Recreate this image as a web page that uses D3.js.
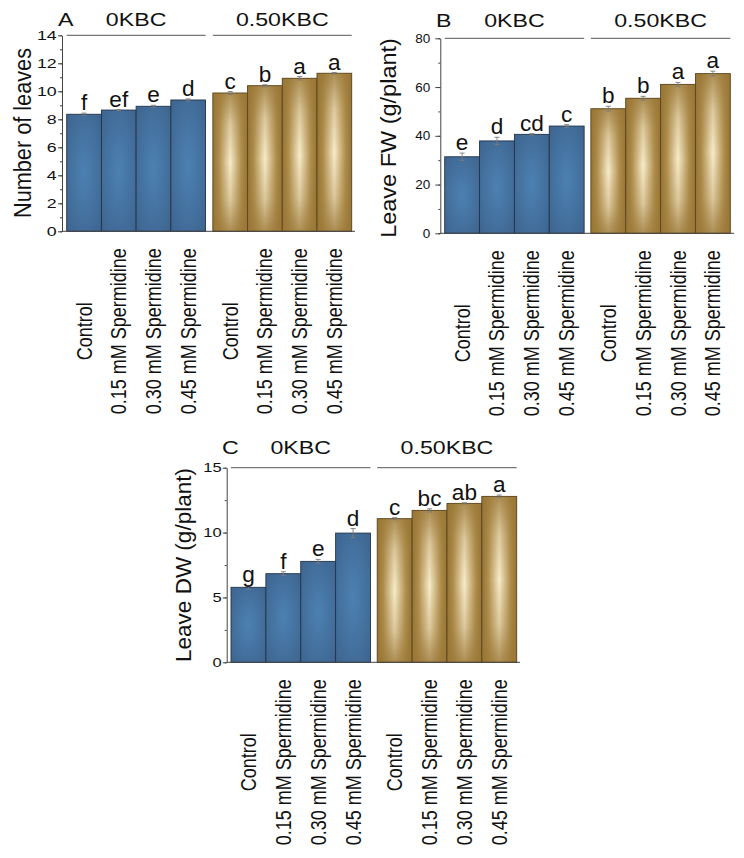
<!DOCTYPE html>
<html>
<head>
<meta charset="utf-8">
<script src="https://cdn.jsdelivr.net/npm/d3@7"></script>
<style>
  body { margin: 0; background: #fff; }
  svg { display: block; font-family: "Liberation Sans", Arial, sans-serif; }
</style>
</head>
<body>
<svg id="fig" width="744" height="858"></svg>
<script>
// data
const groups = ['0KBC', '0.50KBC'];
const treatments = ['Control', '0.15 mM Spermidine', '0.30 mM Spermidine', '0.45 mM Spermidine'];

const leavesMean = [8.36, 8.66, 8.93, 9.38, 9.88, 10.40, 10.93, 11.29];
const leavesErr = [0.08, 0.03, 0.07, 0.08, 0.10, 0.07, 0.12, 0.05];
const leavesLetters = ['f', 'ef', 'e', 'd', 'c', 'b', 'a', 'a'];

const fwMean = [31.4, 37.9, 40.6, 44.0, 51.1, 55.4, 61.1, 65.5];
const fwErr = [1.5, 1.5, 0.3, 0.6, 1.0, 0.8, 0.8, 1.0];
const fwLetters = ['e', 'd', 'cd', 'c', 'b', 'b', 'a', 'a'];

const dwMean = [5.78, 6.83, 7.78, 9.96, 11.07, 11.71, 12.25, 12.79];
const dwErr = [0.15, 0.15, 0.15, 0.35, 0.08, 0.12, 0.05, 0.10];
const dwLetters = ['g', 'f', 'e', 'd', 'c', 'bc', 'ab', 'a'];

const SX = 1.22; // the source image is stretched horizontally

const svg = d3.select('#fig');
const defs = svg.append('defs');

// blue fill
let rg = defs.append('radialGradient').attr('id', 'blueFill')
    .attr('cx', '50%').attr('cy', '50%').attr('r', '75%');
rg.append('stop').attr('offset', '0%').attr('stop-color', '#4c81b2');
rg.append('stop').attr('offset', '100%').attr('stop-color', '#3d628c');

// gold fill: horizontal + vertical shading
let lg = defs.append('linearGradient').attr('id', 'goldH')
    .attr('x1', '0').attr('x2', '1').attr('y1', '0').attr('y2', '0');
[['0%', '#957230'], ['18%', '#b08f4e'], ['50%', '#f8ecca'], ['82%', '#b08f4e'], ['100%', '#957230']]
    .forEach(s => lg.append('stop').attr('offset', s[0]).attr('stop-color', s[1]));
let lv = defs.append('linearGradient').attr('id', 'goldV')
    .attr('x1', '0').attr('x2', '0').attr('y1', '0').attr('y2', '1');
[['0%', 0.8], ['22%', 0.3], ['50%', 0], ['78%', 0.3], ['100%', 0.8]]
    .forEach(s => lv.append('stop').attr('offset', s[0]).attr('stop-color', '#9a7736').attr('stop-opacity', s[1]));

function txt(g, x, y, str, size, rot, anchor, sx) {
    return g.append('text')
        .attr('transform', 'translate(' + x + ',' + y + ') scale(' + (sx || SX) + ',1)' + (rot ? ' rotate(-90)' : ''))
        .attr('text-anchor', anchor || 'middle')
        .attr('font-size', size)
        .attr('fill', '#111')
        .text(str);
}

function panel(p) {
    const g = svg.append('g');
    const y = d3.scaleLinear().domain([0, p.max]).range([p.y0, p.yTop]);
    const gx = d3.scaleBand().domain(groups).range([p.x0, p.x1]).paddingInner(p.gap);
    const ix = d3.scaleBand().domain(treatments).range([0, gx.bandwidth()]);

    const rows = p.mean.map((m, i) => ({
        grp: groups[Math.floor(i / 4)], trt: treatments[i % 4],
        m: m, e: p.err[i], l: p.letters[i], gold: i >= 4
    }));
    const cx = d => gx(d.grp) + ix(d.trt);

    // group lines and labels
    groups.forEach(k => {
        g.append('line')
            .attr('x1', gx(k)).attr('x2', gx(k) + gx.bandwidth())
            .attr('y1', p.yTop).attr('y2', p.yTop)
            .attr('stroke', '#555').attr('stroke-width', 1);
        txt(g, gx(k) + gx.bandwidth() / 2, p.yTop + p.grpDy, k, 19);
    });
    txt(g, p.letterX, p.yTop + p.grpDy, p.tag, 19, false, 'start');

    // bars
    const bars = g.selectAll('.bar').data(rows).enter().append('g');
    bars.append('rect')
        .attr('x', cx).attr('width', ix.bandwidth())
        .attr('y', d => y(d.m)).attr('height', d => y(0) - y(d.m))
        .attr('fill', d => d.gold ? 'url(#goldH)' : 'url(#blueFill)');
    bars.filter(d => d.gold).append('rect')
        .attr('x', cx).attr('width', ix.bandwidth())
        .attr('y', d => y(d.m)).attr('height', d => y(0) - y(d.m))
        .attr('fill', 'url(#goldV)');
    bars.append('rect')
        .attr('x', cx).attr('width', ix.bandwidth())
        .attr('y', d => y(d.m)).attr('height', d => y(0) - y(d.m))
        .attr('fill', 'none')
        .attr('stroke', d => d.gold ? '#5b4720' : '#22344a').attr('stroke-width', 0.9);

    // error bars
    const eb = bars.append('g').attr('stroke', '#7a7a7a').attr('stroke-width', 0.9);
    eb.append('line')
        .attr('x1', d => cx(d) + ix.bandwidth() / 2).attr('x2', d => cx(d) + ix.bandwidth() / 2)
        .attr('y1', d => y(d.m - d.e)).attr('y2', d => y(d.m + d.e));
    ['-', '+'].forEach(s => {
        eb.append('line')
            .attr('x1', d => cx(d) + ix.bandwidth() / 2 - 2.5).attr('x2', d => cx(d) + ix.bandwidth() / 2 + 2.5)
            .attr('y1', d => y(s === '+' ? d.m + d.e : d.m - d.e))
            .attr('y2', d => y(s === '+' ? d.m + d.e : d.m - d.e));
    });

    // significance letters
    rows.forEach(d => {
        txt(g, cx(d) + ix.bandwidth() / 2, y(d.m + d.e) - 3, d.l, 21.5, false, 'middle', 1.05);
    });

    // y axis with minor ticks
    const minor = g.append('g').attr('transform', 'translate(' + p.x0Axis + ',0)')
        .call(d3.axisLeft(y).tickValues(d3.range(0, p.max + 0.001, p.minor)).tickSize(2).tickFormat(''));
    minor.select('.domain').remove();
    minor.selectAll('line').attr('stroke', '#444');
    const ax = g.append('g').attr('transform', 'translate(' + p.x0Axis + ',0)')
        .call(d3.axisLeft(y).tickValues(d3.range(0, p.max + 0.001, p.major)).tickSize(p.tick).tickSizeOuter(0));
    ax.select('.domain').attr('stroke', '#444');
    ax.selectAll('line').attr('stroke', '#444');
    ax.selectAll('text')
        .attr('font-size', 12.5).attr('font-family', '"Liberation Sans", Arial, sans-serif')
        .attr('fill', '#111')
        .attr('x', -p.tickGap / p.tickSX)
        .attr('transform', 'scale(' + p.tickSX + ',1)');

    // baseline
    g.append('line')
        .attr('x1', p.x0Axis).attr('x2', p.xEnd)
        .attr('y1', y(0)).attr('y2', y(0))
        .attr('stroke', '#444').attr('stroke-width', 1);

    // x labels
    rows.forEach(d => {
        txt(g, cx(d) + ix.bandwidth() / 2 + 7.5, p.y0 + 100, d.trt, 18, true, 'middle', 1.18);
    });

    // y title
    txt(g, p.titleX, p.titleY, p.title, p.titleSize, true, 'middle', p.titleSX);
}

panel({ tag: 'A', title: 'Number of leaves', mean: leavesMean, err: leavesErr, letters: leavesLetters,
    max: 14, major: 2, minor: 1, y0: 231.3, yTop: 35.3, x0Axis: 62, x0: 66.7, x1: 351.7, xEnd: 355,
    gap: 0.05, grpDy: -9, letterX: 58, tick: 4, tickGap: 5.3, tickSX: 1.42,
    titleX: 31, titleY: 133, titleSize: 21.7, titleSX: 1.1 });
panel({ tag: 'B', title: 'Leave FW (g/plant)', mean: fwMean, err: fwErr, letters: fwLetters,
    max: 80, major: 20, minor: 10, y0: 233.3, yTop: 38.3, x0Axis: 440.3, x0: 444.7, x1: 730.3, xEnd: 734,
    gap: 0.046, grpDy: -11, letterX: 436, tick: 5, tickGap: 10, tickSX: 1.08,
    titleX: 396, titleY: 138, titleSize: 23.5, titleSX: 0.92 });
panel({ tag: 'C', title: 'Leave DW (g/plant)', mean: dwMean, err: dwErr, letters: dwLetters,
    max: 15, major: 5, minor: 2.5, y0: 662.3, yTop: 467.7, x0Axis: 226.7, x0: 231, x1: 516.7, xEnd: 520,
    gap: 0.046, grpDy: -14, letterX: 222, tick: 4, tickGap: 5, tickSX: 1.32,
    titleX: 191, titleY: 565, titleSize: 22.5, titleSX: 1.0 });
</script>
</body>
</html>
